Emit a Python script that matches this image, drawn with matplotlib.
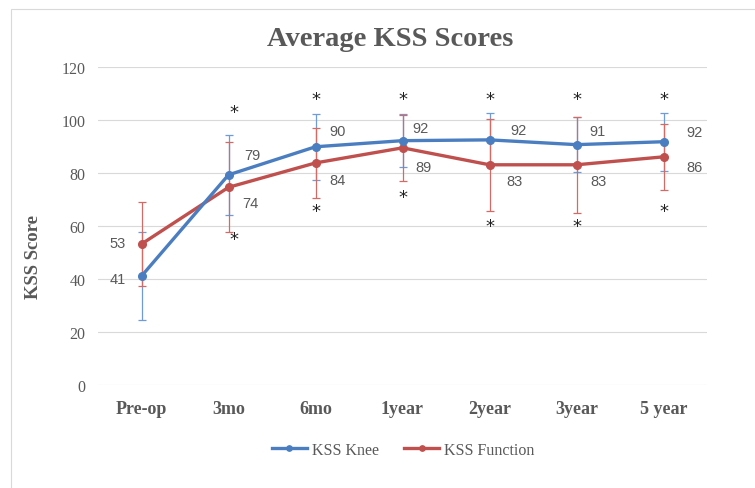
import matplotlib
matplotlib.use("Agg")
import matplotlib.pyplot as plt
from matplotlib.patches import Rectangle

# data
periods = ["Pre-op", "3mo", "6mo", "1year", "2year", "3year", "5 year"]
knee = [41.1, 79.3, 89.9, 92.2, 92.5, 90.7, 91.8]
knee_err = [16.5, 15.0, 12.5, 10.0, 10.0, 10.5, 11.0]
knee_labels = ["41", "79", "90", "92", "92", "91", "92"]
function = [53.2, 74.6, 83.8, 89.5, 83.1, 83.1, 86.1]
function_err = [16.0, 17.0, 13.3, 12.5, 17.3, 18.2, 12.5]
function_labels = ["53", "74", "84", "89", "83", "83", "86"]
star_above = [None, 103, 108, 108, 108, 108, 108]
star_below = [None, 55, 65.5, 71, 60, 60, 65.5]

BLUE = "#4A7EC0"
RED = "#C0504D"
GREY = "#595959"
SERIF = "Liberation Serif"

fig = plt.figure(figsize=(7.55, 4.89), dpi=100)
fig.patches.append(Rectangle((11 / 755, -0.5), 2, 1.5 - 10 / 489, transform=fig.transFigure,
                             fill=False, edgecolor="#D9D9D9", linewidth=0.8))
ax = fig.add_axes([98 / 755, 1 - 386 / 489, 609 / 755, 318 / 489])

x = list(range(len(periods)))
ax.errorbar(x, knee, yerr=knee_err, fmt="none", ecolor="#6F9BD8", elinewidth=0.9,
            capsize=3, capthick=0.9, zorder=2)
ax.errorbar(x, function, yerr=function_err, fmt="none", ecolor="#D46A66", elinewidth=0.9,
            capsize=3, capthick=0.9, zorder=2)
ax.plot(x, knee, color=BLUE, linewidth=2.4, marker="o", markersize=5.5, label="KSS Knee", zorder=4)
ax.plot(x, function, color=RED, linewidth=2.4, marker="o", markersize=5.5, label="KSS Function", zorder=3)

# data labels
knee_offsets = [(-17, -2), (17, 14), (16, 11), (13, 9), (21, 7), (15, 10), (22, 7)]
function_offsets = [(-17, 1), (16, -11), (16, -12), (15, -14), (18, -12), (16, -12), (22, -7)]
for i in x:
    ax.annotate(knee_labels[i], (i, knee[i]), xytext=knee_offsets[i], textcoords="offset points",
                ha="center", va="center", fontsize=10.5, color=GREY, family="Liberation Sans")
    ax.annotate(function_labels[i], (i, function[i]), xytext=function_offsets[i],
                textcoords="offset points", ha="center", va="center", fontsize=10.5, color=GREY,
                family="Liberation Sans")

# significance markers
for i in x:
    for val in (star_above[i], star_below[i]):
        if val is not None:
            ax.text(i + (0.06 if i == 1 else 0), val, "*", ha="center", va="center",
                    fontsize=13, color="#222222")

ax.set_xlim(-0.5, len(periods) - 0.5)
ax.set_ylim(0, 120)
ax.set_yticks(range(0, 121, 20))
ax.set_xticks(x)
ax.set_xticklabels(periods, fontsize=13, fontweight="bold", family=SERIF, color=GREY)
for lab in ax.get_yticklabels():
    lab.set_family(SERIF)
    lab.set_fontsize(11.5)
    lab.set_color(GREY)
ax.tick_params(axis="both", length=0)
ax.tick_params(axis="y", pad=9)
ax.tick_params(axis="x", pad=11)
ax.grid(axis="y", color="#D9D9D9", linewidth=0.8)
ax.set_axisbelow(True)
for spine in ax.spines.values():
    spine.set_visible(False)

fig.text(390 / 755, 1 - 40 / 489, "Average KSS Scores", ha="center", va="center",
         fontsize=20.5, fontweight="bold", family=SERIF, color=GREY)
fig.text(33 / 755, 1 - 257 / 489, "KSS Score", ha="center", va="center", rotation=90,
         fontsize=13.5, fontweight="bold", family=SERIF, color=GREY)

ax.legend(loc="center", bbox_to_anchor=(403 / 755, 1 - 451 / 489), bbox_transform=fig.transFigure,
          ncol=2, frameon=False, prop={"family": SERIF, "size": 11.5}, labelcolor=GREY,
          handlelength=2.2, handletextpad=0.3, columnspacing=1.6, markerscale=0.7)

fig.savefig("out.png", dpi=100)
